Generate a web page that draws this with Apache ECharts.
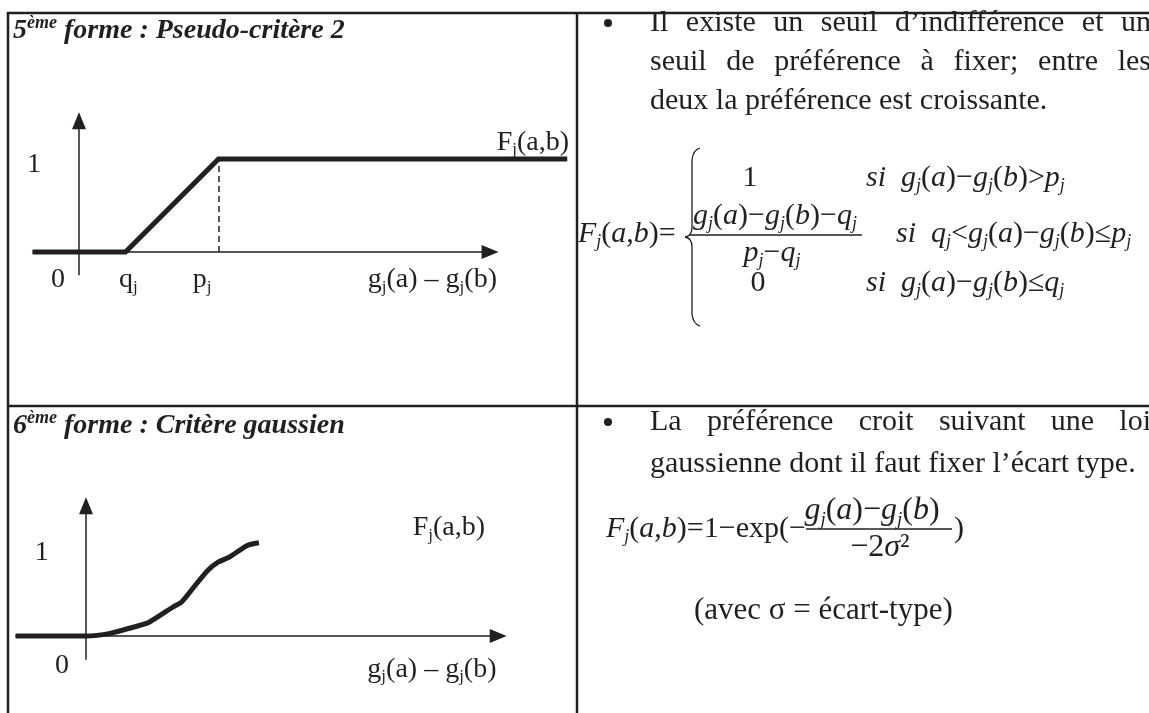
<!DOCTYPE html>
<html>
<head>
<meta charset="utf-8">
<script src="https://cdn.jsdelivr.net/npm/echarts@6/dist/echarts.min.js"></script>
<style>
  html, body { margin: 0; padding: 0; background: #fff; }
  #chart { width: 1149px; height: 713px; }
</style>
</head>
<body>
<div id="chart"></div>
<script>
// --- data -------------------------------------------------------------
// 5e forme : pseudo-critère (q = seuil d'indifférence, p = seuil de préférence)
const pseudoX = [-1, 1, 3, 10.5]
const pseudoY = [0, 0, 1, 1]
const pseudoP = 3

// 6e forme : critère gaussien (courbe)
const gaussX = [-1.5, 0, 0.51, 1.0, 1.32, 1.85, 2.04, 2.36, 2.6, 2.81, 3.06, 3.43, 3.68]
const gaussY = [0, 0, 0.03, 0.10, 0.15, 0.33, 0.39, 0.60, 0.75, 0.84, 0.90, 1.03, 1.06]

const titleTop = ['5', 'ème', ' forme : Pseudo-critère 2']
const titleBottom = ['6', 'ème', ' forme : Critère gaussien']

const textTop = [
  'Il existe un seuil d’indifférence et un',
  'seuil de préférence à fixer; entre les',
  'deux la préférence est croissante.',
]
const textBottom = [
  'La préférence croit suivant une loi',
  'gaussienne dont il faut fixer l’écart type.',
]

// labels of each small chart: [text, x, y] in axis units
const pseudoLabels = [
  ['1', -0.97, 0.94],
  ['0', -0.45, -0.3],
  ['q_j', 1.06, -0.3],
  ['p_j', 2.65, -0.3],
  ['g_j(a) – g_j(b)', 7.6, -0.3],
  ['F_j(a,b)', 9.76, 1.18],
]
const gaussLabels = [
  ['1', -0.94, 0.95],
  ['0', -0.51, -0.34],
  ['F_j(a,b)', 7.72, 1.23],
  ['g_j(a) – g_j(b)', 7.36, -0.38],
]

// --- styles -----------------------------------------------------------
const SERIF = "'Liberation Serif', 'Times New Roman', serif"
const INK = '#231f20'
const LABEL_FS = 28
const BODY_FS = 30
const MATH_FS = 30

const labelRich = {
  n: { fontFamily: SERIF, fontSize: LABEL_FS, fill: INK, lineHeight: 32 },
  s: { fontFamily: SERIF, fontSize: 17, fill: INK, lineHeight: 12, verticalAlign: 'bottom' },
}

function mathRichStyles(fs) {
  return {
    it: { fontFamily: SERIF, fontStyle: 'italic', fontSize: fs, fill: INK, lineHeight: fs + 4 },
    up: { fontFamily: SERIF, fontSize: fs, fill: INK, lineHeight: fs + 4 },
    sub: { fontFamily: SERIF, fontStyle: 'italic', fontSize: Math.round(fs * 0.6), fill: INK, lineHeight: 12, verticalAlign: 'bottom' },
  }
}

// "_x" -> subscript, letters -> italic, `...` -> upright
function mathRich(str) {
  let out = ''
  let cur = null
  let buf = ''
  let upright = false
  const push = (style, ch) => {
    if (style !== cur) {
      if (buf) out += `{${cur}|${buf}}`
      cur = style
      buf = ''
    }
    buf += ch
  }
  for (let i = 0; i < str.length; i++) {
    const c = str[i]
    if (c === '`') { upright = !upright; continue }
    if (c === '_') { push('sub', str[++i]); continue }
    const isLetter = /[A-Za-zσ]/.test(c)
    push(isLetter && !upright ? 'it' : 'up', c)
  }
  if (buf) out += `{${cur}|${buf}}`
  return out
}

function labelText(str) {
  return str.split(/(_.)/).filter(Boolean).map((part) => (
    part[0] === '_' ? `{s|${part[1]}}` : `{n|${part}}`
  )).join('')
}

// --- text helpers (graphic) -------------------------------------------
const measureCtx = document.createElement('canvas').getContext('2d')

function justifiedLine(line, x0, x1, y, justify) {
  measureCtx.font = `${BODY_FS}px ${SERIF}`
  const words = line.split(' ')
  const widths = words.map((w) => measureCtx.measureText(w).width)
  const total = widths.reduce((a, b) => a + b, 0)
  const gap = justify && words.length > 1
    ? (x1 - x0 - total) / (words.length - 1)
    : measureCtx.measureText(' ').width
  let x = x0
  return words.map((w, i) => {
    const el = {
      type: 'text',
      x,
      y,
      style: { text: w, fontFamily: SERIF, fontSize: BODY_FS, fill: INK, verticalAlign: 'middle' },
    }
    x += widths[i] + gap
    return el
  })
}

function bodyText(text, x, y, extra = {}) {
  return {
    type: 'text',
    x,
    y,
    style: Object.assign({ text, fontFamily: SERIF, fontSize: BODY_FS, fill: INK, verticalAlign: 'middle' }, extra),
  }
}

function bullet(x, y) {
  return { type: 'circle', shape: { cx: x, cy: y, r: 4 }, style: { fill: INK } }
}

function mathText(str, x, y, align = 'left', fs = MATH_FS) {
  return {
    type: 'text',
    x,
    y,
    style: { text: mathRich(str), rich: mathRichStyles(fs), align, verticalAlign: 'middle' },
  }
}

function titleText(parts, x, y) {
  return {
    type: 'text',
    x,
    y,
    style: {
      text: `{b|${parts[0]}}{sup|${parts[1]}}{b|${parts[2]}}`,
      verticalAlign: 'middle',
      rich: {
        b: { fontFamily: SERIF, fontStyle: 'italic', fontWeight: 'bold', fontSize: 28, fill: INK, lineHeight: 34 },
        sup: { fontFamily: SERIF, fontStyle: 'italic', fontWeight: 'bold', fontSize: 18, fill: INK, lineHeight: 16, verticalAlign: 'top' },
      },
    },
  }
}

function hLine(x1, x2, y, w = 2.5) {
  return { type: 'line', shape: { x1, y1: y, x2, y2: y }, style: { stroke: INK, lineWidth: w } }
}
function vLine(x, y1, y2, w = 2.5) {
  return { type: 'line', shape: { x1: x, y1, x2: x, y2 }, style: { stroke: INK, lineWidth: w } }
}

function brace(x, top, bottom) {
  const mid = (top + bottom) / 2
  const st = { stroke: INK, lineWidth: 1.3, fill: null }
  return [
    { type: 'bezierCurve', shape: { x1: x + 8, y1: top, cpx1: x + 1, cpy1: top + 2, x2: x, y2: top + 12 }, style: st },
    vLine(x, top + 12, mid - 10, 1.3),
    { type: 'bezierCurve', shape: { x1: x, y1: mid - 10, cpx1: x, cpy1: mid - 1, x2: x - 7, y2: mid }, style: st },
    { type: 'bezierCurve', shape: { x1: x - 7, y1: mid, cpx1: x, cpy1: mid + 1, x2: x, y2: mid + 10 }, style: st },
    vLine(x, mid + 10, bottom - 12, 1.3),
    { type: 'bezierCurve', shape: { x1: x, y1: bottom - 12, cpx1: x + 1, cpy1: bottom - 2, x2: x + 8, y2: bottom }, style: st },
  ]
}

// --- graphic layout ---------------------------------------------------
const graphics = [
  // table
  hLine(7, 1149, 13),
  hLine(7, 1149, 406),
  vLine(8, 12, 713),
  vLine(577, 12, 713),

  titleText(titleTop, 13, 31),
  titleText(titleBottom, 13, 426),

  // row 1, right
  bullet(608, 23),
  ...justifiedLine(textTop[0], 650, 1151, 23, true),
  ...justifiedLine(textTop[1], 650, 1151, 62, true),
  ...justifiedLine(textTop[2], 650, 1151, 101, false),

  mathText('F_j(a,b)`=`', 578, 234),
  ...brace(692, 148, 326),
  mathText('1', 750, 178, 'center'),
  mathText('si  g_j(a)−g_j(b)>p_j', 866, 178),
  mathText('g_j(a)−g_j(b)−q_j', 775, 216, 'center'),
  hLine(689, 862, 235, 1.3),
  mathText('p_j−q_j', 772, 253, 'center'),
  mathText('si  q_j<g_j(a)−g_j(b)≤p_j', 896, 234),
  mathText('0', 758, 283, 'center'),
  mathText('si  g_j(a)−g_j(b)≤q_j', 866, 283),

  // row 2, right
  bullet(608, 422),
  ...justifiedLine(textBottom[0], 650, 1151, 422, true),
  ...justifiedLine(textBottom[1], 650, 1151, 464, false),

  mathText('F_j(a,b)`=1−exp(−`', 606, 529),
  mathText('g_j(a)−g_j(b)', 872, 511, 'center', 32),
  hLine(806, 952, 529, 1.3),
  mathText('`−2`σ`²`', 880, 548, 'center', 32),
  mathText('`)`', 954, 529),
  bodyText('(avec σ = écart-type)', 694, 611, { fontSize: 31 }),
]

// --- chart ------------------------------------------------------------
function zip(xs, ys) {
  return xs.map((x, i) => [x, ys[i]])
}

function axisArrows(xFrom, xTo, yFrom, yTo) {
  const arrow = { symbol: 'triangle', symbolSize: [14, 17] }
  return [
    [{ coord: [xFrom, 0], symbol: 'none' }, Object.assign({ coord: [xTo, 0] }, arrow)],
    [{ coord: [0, yFrom], symbol: 'none' }, Object.assign({ coord: [0, yTo] }, arrow)],
  ]
}

const option = {
  animation: false,
  backgroundColor: '#fff',
  graphic: { elements: graphics },
  grid: [
    { left: 32.5, top: 112.5, width: 534.75, height: 190.65 },
    { left: 15.5, top: 497, width: 493.5, height: 187.44 },
  ],
  xAxis: [
    { gridIndex: 0, type: 'value', min: -1, max: 10.5, show: false },
    { gridIndex: 1, type: 'value', min: -1.5, max: 9, show: false },
  ],
  yAxis: [
    { gridIndex: 0, type: 'value', min: -0.55, max: 1.5, show: false },
    { gridIndex: 1, type: 'value', min: -0.55, max: 1.58, show: false },
  ],
  series: [
    {
      name: 'pseudo',
      type: 'line',
      xAxisIndex: 0,
      yAxisIndex: 0,
      data: zip(pseudoX, pseudoY),
      symbol: 'none',
      z: 5,
      lineStyle: { color: INK, width: 5, join: 'miter' },
      markLine: {
        silent: true,
        animation: false,
        label: { show: false },
        lineStyle: { color: INK, width: 1.5, type: 'solid' },
        itemStyle: { color: INK },
        data: [
          ...axisArrows(-1, 8.84, -0.25, 1.41),
          [
            { coord: [pseudoP, 0], symbol: 'none', lineStyle: { type: [6, 4], width: 1.5 } },
            { coord: [pseudoP, 1], symbol: 'none' },
          ],
        ],
      },
    },
    {
      name: 'gauss',
      type: 'line',
      xAxisIndex: 1,
      yAxisIndex: 1,
      data: zip(gaussX, gaussY),
      symbol: 'none',
      smooth: 0.2,
      z: 5,
      lineStyle: { color: INK, width: 5 },
      markLine: {
        silent: true,
        animation: false,
        label: { show: false },
        lineStyle: { color: INK, width: 1.5, type: 'solid' },
        itemStyle: { color: INK },
        data: axisArrows(-1.5, 8.77, -0.27, 1.48),
      },
    },
  ],
}

const chart = echarts.init(document.getElementById('chart'), null, { renderer: 'canvas' })
chart.setOption(option)

// axis labels of the two small charts, placed through each grid's scales
function axisLabelElements(labels, gridIndex) {
  return labels.map(([name, x, y]) => {
    const [px, py] = chart.convertToPixel({ gridIndex }, [x, y])
    return {
      type: 'text',
      x: px,
      y: py,
      z: 10,
      style: { text: labelText(name), rich: labelRich, align: 'center', verticalAlign: 'middle' },
    }
  })
}

chart.setOption({
  graphic: {
    elements: graphics.concat(
      axisLabelElements(pseudoLabels, 0),
      axisLabelElements(gaussLabels, 1),
    ),
  },
}, { replaceMerge: ['graphic'] })

window.addEventListener('resize', () => chart.resize())
</script>
</body>
</html>
